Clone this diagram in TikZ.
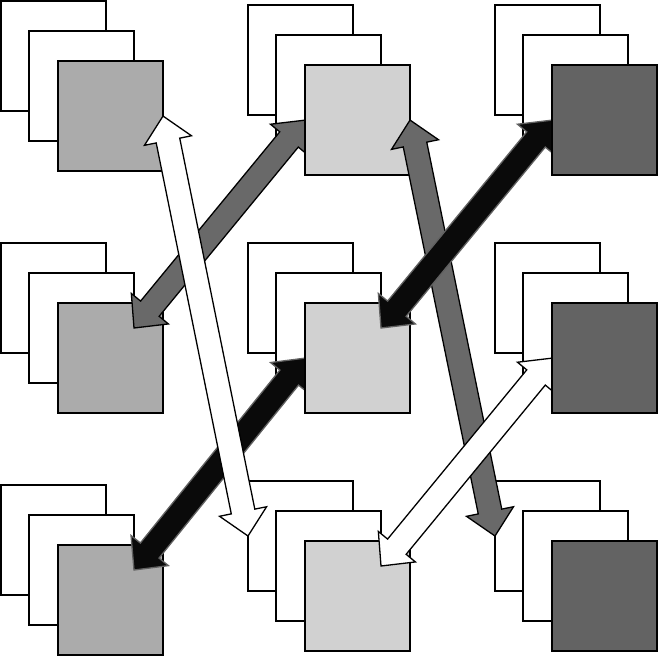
\documentclass[tikz,border=0pt]{standalone}
\usepackage{tikz}
\usetikzlibrary{calc}
\definecolor{cardA}{gray}{0.67}
\definecolor{cardB}{gray}{0.82}
\definecolor{cardC}{gray}{0.39}
\definecolor{arrowgrey}{gray}{0.41}
\tikzset{
  card/.style={
    % The shape:
    shape=rectangle,
    % The size:
    minimum width=105pt, minimum height=110pt,
    inner sep=0pt, outer sep=0pt, anchor=north west,
    % The border and filling:
    line width=1.3pt, draw=black, fill=white
  },
  cardface/.style={line width=1.3pt, draw=black},
  fat/.style={line width=1.3pt, line join=miter},
  greyfat/.style={fat, draw=black, fill=arrowgrey},
  blackfat/.style={fat, draw=black!62, fill=black!96},
  whitefat/.style={fat, draw=black, fill=white}
}
% block arrow with two heads: style, from, to
\newcommand\fatarrow[3]{%
  \path[#1] let \p1=(#2), \p2=(#3),
    \n1={atan2(\y2-\y1,\x2-\x1)},
    \n2={10*veclen((\x2-\x1)/10,(\y2-\y1)/10)} in
    [shift={(\p1)}, rotate=\n1]
    (0pt,0pt) -- (25pt,24pt) -- (25pt,12pt) -- ({\n2*1pt-25pt},12pt)
    -- ({\n2*1pt-25pt},24pt) -- ({\n2*1pt},0pt) -- ({\n2*1pt-25pt},-24pt)
    -- ({\n2*1pt-25pt},-12pt) -- (25pt,-12pt) -- (25pt,-24pt) -- cycle;}

\begin{document}
\begin{tikzpicture}[x=1pt,y=-1pt]
	\useasboundingbox (0,0) rectangle (658,657);
	% three cards per place, front one shaded by column
	\foreach \n/\x/\y/\shade in {11/58/61/cardA, 12/305/65/cardB, 13/552/65/cardC,
		21/58/303/cardA, 22/305/303/cardB, 23/552/303/cardC,
		31/58/545/cardA, 32/305/541/cardB, 33/552/541/cardC}{
		\node[card] (b\n) at (\x-57,\y-60) {};
		\node[card] (m\n) at (\x-29,\y-30) {};
		\node[card,fill=\shade] (f\n) at (\x,\y) {};
	}
	% arrows, some front cards laid again on top of them
	\fatarrow{greyfat}{m21.east}{f12.west}
	\fatarrow{blackfat}{m31.east}{f22.west}
	\draw[cardface,fill=cardB] (f12.north west) rectangle (f12.south east);
	\draw[cardface,fill=cardB] (f22.north west) rectangle (f22.south east);
	\fatarrow{greyfat}{b33.west}{f12.east}
	\fatarrow{blackfat}{m22.east}{f13.west}
	\draw[cardface,fill=cardC] (f13.north west) rectangle (f13.south east);
	\fatarrow{whitefat}{m32.east}{f23.west}
	\draw[cardface,fill=cardC] (f23.north west) rectangle (f23.south east);
	\fatarrow{whitefat}{b32.west}{f11.east}
\end{tikzpicture}
\end{document}
